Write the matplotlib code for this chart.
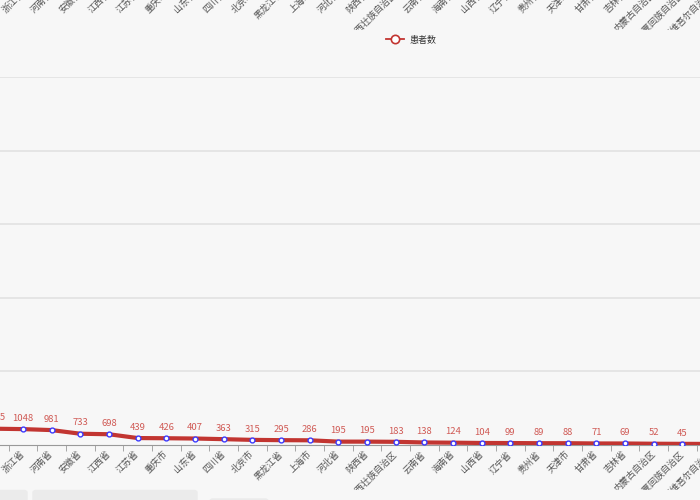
import matplotlib
matplotlib.use("Agg")
import matplotlib.pyplot as plt
from matplotlib.lines import Line2D
from matplotlib.patches import Rectangle, FancyBboxPatch

plt.rcParams['font.family'] = ['Noto Sans CJK SC', 'DejaVu Sans']

provinces = ['广东省', '浙江省', '河南省', '安徽省', '江西省', '江苏省', '重庆市',
             '山东省', '四川省', '北京市', '黑龙江省', '上海市', '河北省', '陕西省',
             '广西壮族自治区', '云南省', '海南省', '山西省', '辽宁省', '贵州省',
             '天津市', '甘肃省', '吉林省', '内蒙古自治区', '宁夏回族自治区',
             '新疆维吾尔自治区']
patients = [1075, 1048, 981, 733, 698, 439, 426, 407, 363, 315, 295, 286, 195,
            195, 183, 138, 124, 104, 99, 89, 88, 71, 69, 52, 45, 39]
y_ticks = [5000, 10000, 15000, 20000, 25000]
series_name = '患者数'

bg = '#f7f7f7'
red = '#c23531'
label_grey = '#555555'

W, H = 700, 500
fig = plt.figure(figsize=(7, 5), dpi=100, facecolor=bg)

n = len(provinces)
band = 28.67
left_px = -5.7 - 0.5 * band
width_px = n * band

# main chart (extends past the figure edges, like the cropped screenshot)
ax = fig.add_axes([left_px / W, 55.5 / H, width_px / W, 367.2 / H], facecolor=bg)
x = list(range(n))
ax.plot(x, patients, color=red, lw=3.0, zorder=3, solid_capstyle='round')
ax.plot(x, patients, ls='none', marker='o', ms=3.5, mfc='white', mec='#3b3bff',
        mew=1.0, zorder=4)
for xi, v in zip(x, patients):
    ax.annotate(str(v), (xi, v), xytext=(0, 4.5), textcoords='offset points',
                ha='center', va='bottom', fontsize=6.8, color='#d05a55')

ax.set_xlim(-0.5, n - 0.5)
ax.set_ylim(0, 25000)
ax.set_yticks(y_ticks)
ax.tick_params(axis='y', left=False, labelleft=False)
ax.yaxis.grid(True, color='#e2e2e2', lw=1.2)
ax.set_axisbelow(True)
for s in ['top', 'right', 'left']:
    ax.spines[s].set_visible(False)
ax.spines['bottom'].set_color('#999999')

ax.set_xticks(x)
ax.set_xticklabels(provinces, rotation=45, ha='right', va='center',
                   rotation_mode='anchor', fontsize=6.5, color=label_grey)
ax.tick_params(axis='x', which='major', length=0, pad=6)
ax.set_xticks([i - 0.5 for i in range(n + 1)], minor=True)
ax.tick_params(axis='x', which='minor', length=4, color='#999999')

# x labels of the chart above, only their lower ends show
ax_top = fig.add_axes([left_px / W, 1 + 16 / H, width_px / W, 0.3], facecolor='none')
ax_top.set_xlim(-0.5, n - 0.5)
ax_top.set_xticks(x)
ax_top.set_xticklabels(provinces, rotation=45, ha='right', va='center',
                       rotation_mode='anchor', fontsize=6.5, color=label_grey)
ax_top.tick_params(axis='x', length=0, pad=6)
ax_top.tick_params(axis='y', left=False, labelleft=False)
for s in ax_top.spines.values():
    s.set_visible(False)

# masks: page background between the two chart containers
fig.patches.append(Rectangle((0, 1 - 75 / H), 1, 45 / H, transform=fig.transFigure,
                             color=bg, zorder=5))
fig.patches.append(Rectangle((0, 0), 1, 10 / H, transform=fig.transFigure,
                             color=bg, zorder=5))
for bx, bw, by in [(-5, 32, 490.5), (33, 164, 490.5), (210, 58, 499)]:
    fig.patches.append(FancyBboxPatch((bx / W, (H - 515) / H), bw / W, (515 - by) / H,
                                      boxstyle='round,pad=0,rounding_size=0.004',
                                      transform=fig.transFigure, color='#ebebeb',
                                      zorder=6))

handle = Line2D([], [], color=red, lw=1.3, marker='o', ms=6, mfc='white', mec=red,
                mew=1.2)
leg = fig.legend([handle], [series_name], loc='center',
                 bbox_to_anchor=(411 / W, 1 - 40 / H), frameon=False, fontsize=6.5,
                 handlelength=2.0, handletextpad=0.6, labelcolor='#333333')
leg.set_zorder(7)

fig.savefig('out.png', dpi=100, facecolor=bg)
